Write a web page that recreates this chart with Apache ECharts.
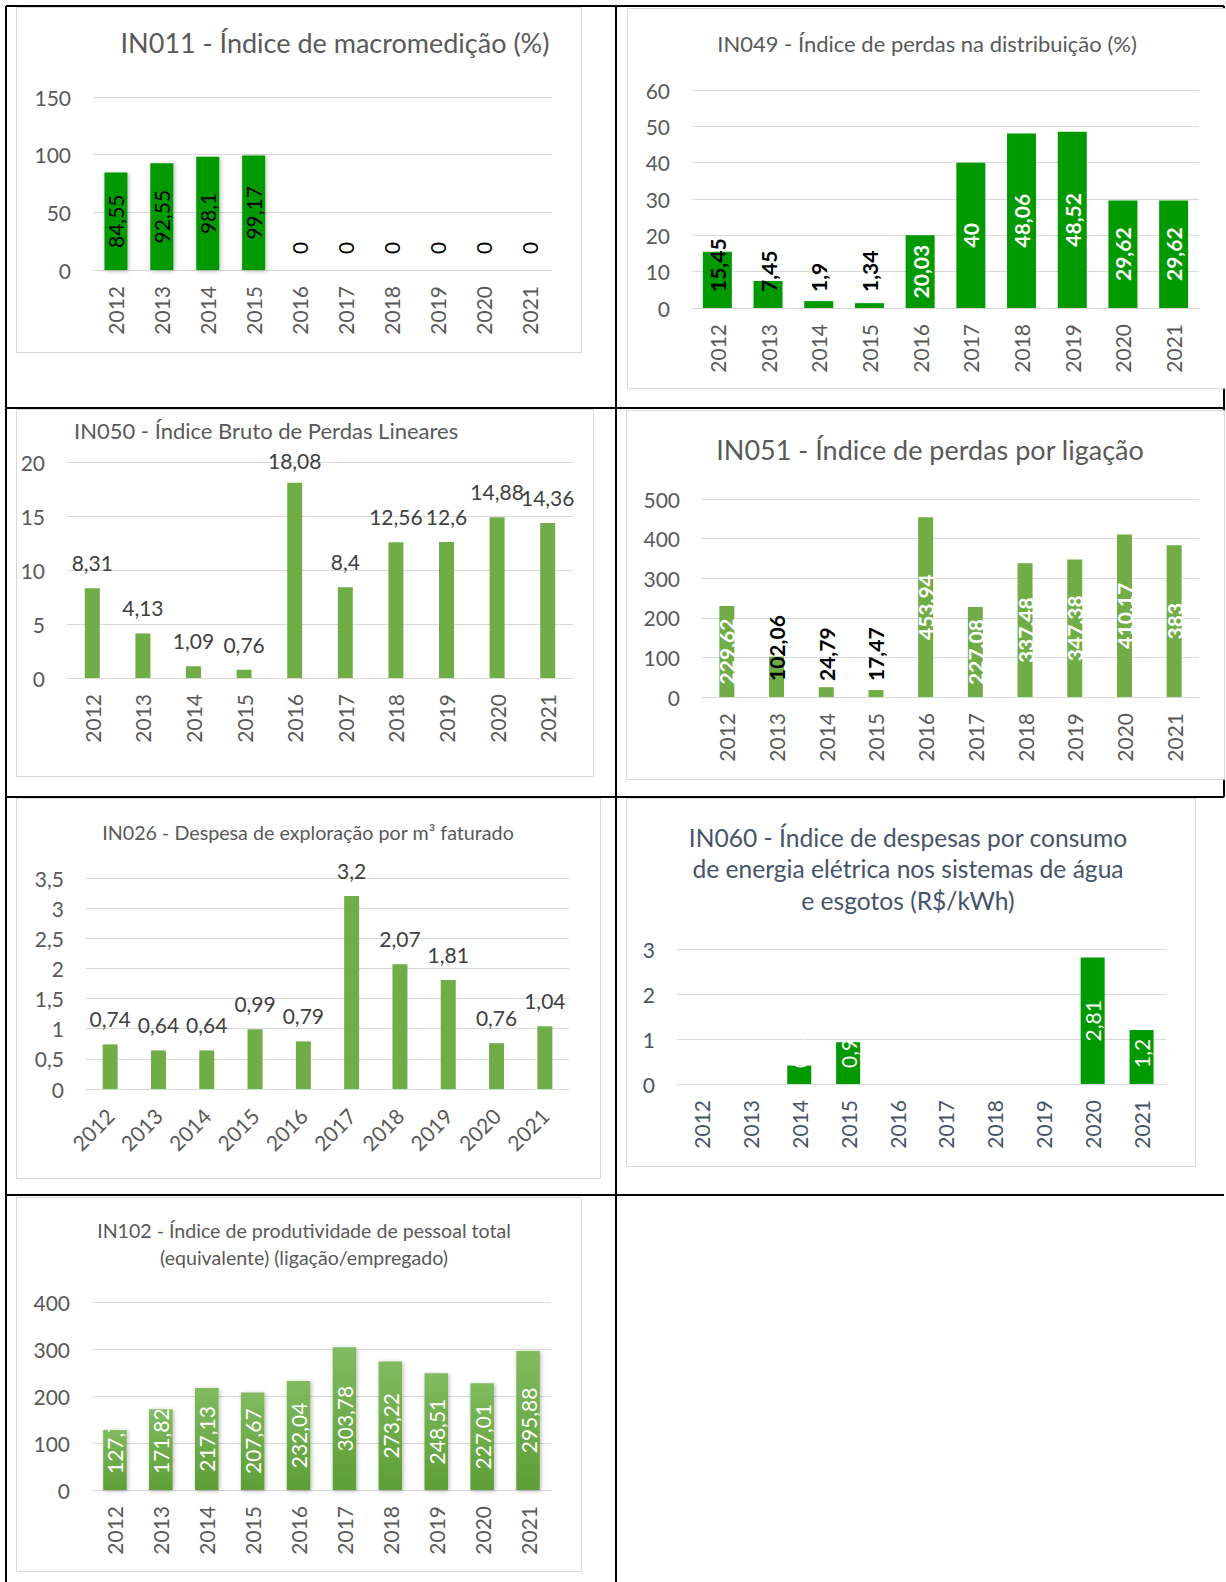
<!DOCTYPE html>
<html>
<head>
<meta charset="utf-8">
<script src="https://cdn.jsdelivr.net/npm/echarts@6/dist/echarts.min.js"></script>
<style>
  html, body { margin: 0; padding: 0; background: #fff; }
  #chart { width: 1226px; height: 1582px; }
</style>
</head>
<body>
<div id="chart"></div>
<script>
// anos (eixo x comum a todos os gráficos)
const years = ['2012', '2013', '2014', '2015', '2016', '2017', '2018', '2019', '2020', '2021']

// valores por indicador
const in011 = [84.55, 92.55, 98.1, 99.17, 0, 0, 0, 0, 0, 0]
const in049 = [15.45, 7.45, 1.9, 1.34, 20.03, 40, 48.06, 48.52, 29.62, 29.62]
const in050 = [8.31, 4.13, 1.09, 0.76, 18.08, 8.4, 12.56, 12.6, 14.88, 14.36]
const in051 = [229.62, 102.06, 24.79, 17.47, 453.94, 227.08, 337.48, 347.38, 410.17, 383]
const in026 = [0.74, 0.64, 0.64, 0.99, 0.79, 3.2, 2.07, 1.81, 0.76, 1.04]
const in060 = [null, null, 0.41, 0.93, null, null, null, null, 2.81, 1.2]
const in102 = [127.7, 171.82, 217.13, 207.67, 232.04, 303.78, 273.22, 248.51, 227.01, 295.88]

// máximos / passos dos eixos y
const yMax = [150, 60, 20, 500, 3.5, 3, 400]
const yStep = [50, 10, 5, 100, 0.5, 1, 100]

const FONT = 'Lato, "Open Sans", sans-serif'
const GRAY = '#595959'
const SLATE = '#44546a'
const GREEN = '#009900'
const LIGHT = '#70ad47'
const AXIS_FS = 21

const fmt = (v) => String(v).replace('.', ',')

// rótulos dentro da barra: centralizados, ou presos à base quando não cabem
function insideData(values, cut, bigColor, smallColor) {
  return values.map((v) => {
    if (v == null) return { value: null }
    const low = v < cut
    return {
      value: v,
      label: low
        ? { position: 'insideBottom', distance: 16, align: 'left', verticalAlign: 'middle', color: smallColor }
        : { position: 'inside', align: 'center', verticalAlign: 'middle', color: bigColor },
    }
  })
}

// rótulos acima da barra; opcionalmente não sobem além do topo da área (como o Excel faz)
function topData(values, grid, max, clamp) {
  return values.map((v) => {
    if (!clamp) return v
    const barTop = grid[1] + grid[3] * (1 - v / max)
    const d = Math.min(15, barTop - grid[1] - 9)
    return { value: v, label: { distance: d } }
  })
}

const grid3 = [67, 462, 506, 216]
const grid5 = [86, 878, 483, 211]

const panels = [
  { grid: [93, 97, 459, 173], barWidth: 23, color: GREEN, shadow: true,
    data: insideData(in011, 20, '#000', '#000'), label: 'inside', bold: false },
  { grid: [692, 90, 507, 218], barWidth: 29, color: GREEN,
    data: insideData(in049, 18, '#fff', '#000'), label: 'inside', bold: true },
  { grid: grid3, barWidth: 15, color: LIGHT,
    data: topData(in050, grid3, yMax[2], true), label: 'top' },
  { grid: [702, 499, 497, 198], barWidth: 15, color: LIGHT,
    data: insideData(in051, 200, '#fff', '#000'), label: 'inside', bold: true },
  { grid: grid5, barWidth: 15, color: LIGHT,
    data: topData(in026, grid5, yMax[4], false), label: 'top', xRotate: 45 },
  { grid: [677, 949, 489, 135], barWidth: 24, color: GREEN, slate: true,
    data: insideData(in060, 2, '#fff', '#fff'), label: 'inside', bold: false },
  { grid: [92, 1302, 459, 188], barWidth: 23.5, shadow: true,
    color: new echarts.graphic.LinearGradient(0, 0, 0, 1, [
      { offset: 0, color: '#80bb60' },
      { offset: 1, color: '#5e9e37' },
    ]),
    data: insideData(in102, 200, '#fff', '#fff'), label: 'inside', bold: false },
]

const grids = panels.map((p) => ({
  left: p.grid[0], top: p.grid[1], width: p.grid[2], height: p.grid[3],
}))

const xAxes = panels.map((p, i) => {
  const c = p.slate ? SLATE : GRAY
  return {
    type: 'category',
    gridIndex: i,
    data: years,
    axisTick: { show: false },
    axisLine: { lineStyle: { color: p.slate ? '#d6dce4' : '#d9d9d9', width: 1 } },
    axisLabel: {
      rotate: p.xRotate || 90,
      margin: p.xRotate ? 23 : 16,
      color: c,
      fontFamily: FONT,
      fontSize: AXIS_FS,
      interval: 0,
    },
  }
})

const yAxes = panels.map((p, i) => ({
  type: 'value',
  gridIndex: i,
  min: 0,
  max: yMax[i],
  interval: yStep[i],
  axisLine: { show: false },
  axisTick: { show: false },
  splitLine: { lineStyle: { color: p.slate ? '#d6dce4' : '#d9d9d9', width: 1 } },
  axisLabel: {
    margin: 22,
    color: p.slate ? SLATE : GRAY,
    fontFamily: FONT,
    fontSize: AXIS_FS,
    formatter: fmt,
  },
}))

const series = panels.map((p, i) => ({
  type: 'bar',
  xAxisIndex: i,
  yAxisIndex: i,
  barWidth: p.barWidth,
  data: p.data,
  itemStyle: Object.assign(
    { color: p.color },
    p.shadow ? { shadowBlur: 4, shadowOffsetX: 1, shadowOffsetY: 1, shadowColor: 'rgba(0,0,0,0.3)' } : {}
  ),
  label: p.label === 'top'
    ? { show: true, position: 'top', distance: 15, color: '#404040', fontFamily: FONT, fontSize: 21, formatter: (q) => fmt(q.value) }
    : { show: true, rotate: 90, fontFamily: FONT, fontSize: 21, fontWeight: p.bold ? 'bold' : 'normal', formatter: (q) => fmt(q.value) },
  emphasis: { disabled: true },
}))

// títulos
const titles = [
  { lines: ['IN011 - Índice de macromedição (%)'], x: 335, y: [42], size: 27, align: 'center' },
  { lines: ['IN049 - Índice de perdas na distribuição (%)'], x: 927, y: [43], size: 22, align: 'center' },
  { lines: ['IN050 - Índice Bruto de Perdas Lineares'], x: 74, y: [430], size: 22, align: 'left' },
  { lines: ['IN051 - Índice de perdas por ligação'], x: 930, y: [449], size: 27, align: 'center' },
  { lines: ['IN026 - Despesa de exploração por m³ faturado'], x: 308, y: [832], size: 19.7, align: 'center' },
  { lines: ['IN060 - Índice de despesas por consumo', 'de energia elétrica nos sistemas de água', 'e esgotos (R$/kWh)'],
    x: 908, y: [837, 868, 900], size: 24.6, align: 'center', color: SLATE },
  { lines: ['IN102 - Índice de produtividade de pessoal total', '(equivalente) (ligação/empregado)'],
    x: 304, y: [1230, 1257], size: 19.6, align: 'center' },
]

const graphics = []

// linhas da tabela
const black = { stroke: '#000', lineWidth: 2 }
;[
  [6, 6, 1224, 6], [6, 6, 6, 1582], [616, 6, 616, 1582],
  [6, 408, 1224, 408], [6, 797, 1224, 797], [6, 1195, 1224, 1195],
  [1224, 6, 1224, 797],
].forEach((s) => {
  graphics.push({ type: 'line', silent: true, z: -2, shape: { x1: s[0], y1: s[1], x2: s[2], y2: s[3] }, style: black })
})

// molduras dos gráficos
;[
  [16, 7, 581, 352], [627, 8, 1226, 388], [16, 409, 593, 776], [626, 410, 1224, 779],
  [16, 798, 600, 1178], [626, 798, 1195, 1166], [16, 1197, 581, 1571],
].forEach((r) => {
  graphics.push({
    type: 'rect', silent: true, z: -1,
    shape: { x: r[0] + 0.5, y: r[1] + 0.5, width: r[2] - r[0], height: r[3] - r[1] },
    style: { fill: '#fff', stroke: '#d9d9d9', lineWidth: 1 },
  })
})

titles.forEach((t) => {
  t.lines.forEach((line, k) => {
    graphics.push({
      type: 'text', silent: true, z: 5, x: t.x, y: t.y[k],
      style: {
        text: line, fill: t.color || GRAY,
        font: `${t.size}px ${FONT}`,
        textAlign: t.align, textVerticalAlign: 'middle',
      },
    })
  })
})

const chart = echarts.init(document.getElementById('chart'), null, { renderer: 'svg' })
chart.setOption({
  animation: false,
  backgroundColor: '#fff',
  grid: grids,
  xAxis: xAxes,
  yAxis: yAxes,
  series: series,
  graphic: graphics,
})
</script>
</body>
</html>
